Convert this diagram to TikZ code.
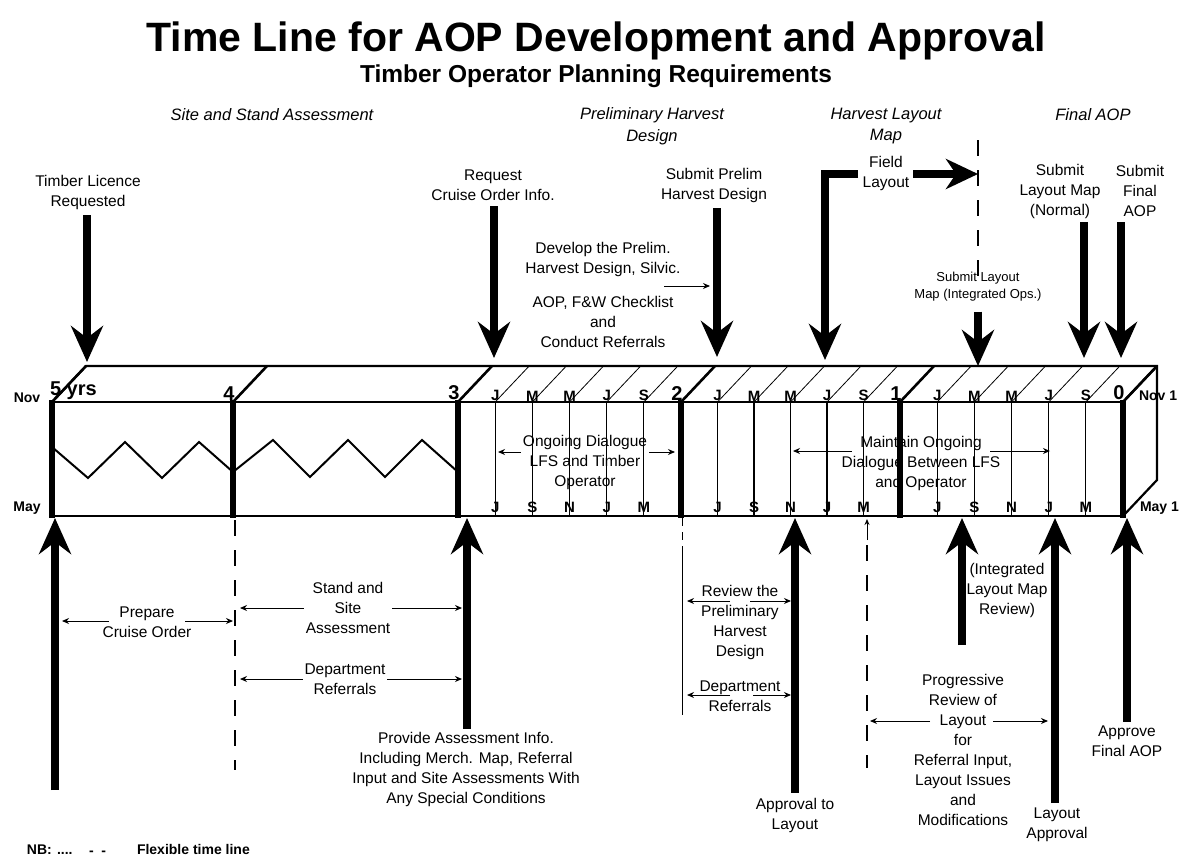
\documentclass[tikz,border=0pt]{standalone}
\usepackage{fontspec}
\setmainfont{Liberation Sans}
\usetikzlibrary{arrows.meta}
\begin{document}
\begin{tikzpicture}[x=1pt,y=-1pt,
  every node/.style={inner sep=0pt, outer sep=0pt},
  body/.style={font=\fontsize{15.5}{20}\selectfont, align=center},
  smalltxt/.style={font=\fontsize{13}{17}\selectfont, align=center},
  phase/.style={font=\fontsize{16.5}{21.5}\selectfont\itshape, align=center},
  yearnum/.style={font=\fontsize{20}{20}\selectfont\bfseries, anchor=south},
  mon/.style={font=\fontsize{15}{15}\selectfont\bfseries},
  sidelbl/.style={font=\fontsize{14}{14}\selectfont\bfseries},
  bigarrow/.style={line width=8pt, -{Stealth[length=36pt,width=32pt,inset=12pt]}},
  fine/.style={line width=1pt},
  thinarrow/.style={line width=1pt, -{Stealth[length=7pt,width=6pt]}},
  flex/.style={line width=1.4pt, dash pattern=on 16pt off 14pt},
  yearline/.style={line width=6pt},
  monthline/.style={line width=1.2pt},
  boxedge/.style={line width=2.2pt, line join=miter},
  note/.style={font=\fontsize{14}{14}\selectfont\bfseries, anchor=base west},
]
\fill[white] (0,0) rectangle (1192,867);
\useasboundingbox (0,0) rectangle (1192,867);

% titles
\node[font=\fontsize{41}{41}\selectfont\bfseries] (title) at (596,41) {Time Line for AOP Development and Approval};
\node[font=\fontsize{24.5}{24.5}\selectfont\bfseries] (subtitle) at (596,76) {Timber Operator Planning Requirements};

% phase labels
\node[phase] (ph1) at (272,115) {Site and Stand Assessment};
\node[phase] (ph2) at (652,126) {Preliminary Harvest\\Design};
\node[phase] (ph3) at (886,126) {Harvest Layout\\Map};
\node[phase] (ph4) at (1093,115) {Final AOP};

% ---- the box ----
\draw[boxedge] (52,402) -- (86,366) -- (1157,366) -- (1157,480) -- (1123,516);
\draw[boxedge] (52,402) rectangle (1123,516);
\draw[boxedge] (1123,402) -- (1157,366);

% zigzags
\draw[line width=2pt, line join=miter] (52,447) -- (88,478) -- (125,442) -- (162,478) -- (199,442) -- (233,472)
  -- (273,440) -- (310,477) -- (348,440) -- (385,477) -- (422,440) -- (458,472);

% month lines and labels
\foreach \a/\b/\n in {458/681/A,681/900/B,900/1123/C}{
  \foreach \k/\t/\bt in {1/J/J,2/M/S,3/M/N,4/J/J,5/S/M}{
    \pgfmathsetmacro\xx{\a+\k*(\b-\a)/6}
    \draw[monthline] (\xx,402) -- (\xx,516);
    \draw[line width=0.8pt] (\xx,402) -- ++(34,-36);
    \node[mon, anchor=south] (top\n\k) at (\xx,401) {\t};
    \node[mon] (bot\n\k) at (\xx,507) {\bt};
  }
}

% year lines
\foreach \x in {52,233,458,681,900,1123}{
  \draw[yearline] (\x,400) -- (\x,518);
  \draw[line width=2.6pt] (\x,402) -- ++(34,-36);
}
\node[font=\fontsize{20}{20}\selectfont\bfseries, anchor=south west] (y5) at (50,400) {5 yrs};
\node[yearnum] (y4) at (229,400) {4};
\node[yearnum] (y3) at (454,400) {3};
\node[yearnum] (y2) at (677,400) {2};
\node[yearnum] (y1) at (896,400) {1};
\node[yearnum] (y0) at (1119,400) {0};

\node[sidelbl] (novL) at (27,398) {Nov};
\node[sidelbl] (mayL) at (27,508) {May};
\node[sidelbl, anchor=west] (novR) at (1139,396) {Nov 1};
\node[sidelbl, anchor=west] (mayR) at (1140,508) {May 1};

% inside box dimension arrows
\node[body] (og) at (585,462) {Ongoing Dialogue\\LFS and Timber\\Operator};
\coordinate (ogL) at (498,452);
\coordinate (ogR) at (675,452);
\draw[thinarrow] ([xshift=-2pt]og.west |- ogL) -- (ogL);
\draw[thinarrow] ([xshift=2pt]og.east |- ogR) -- (ogR);

\node[body] (mo) at (921,463) {Maintain Ongoing\\Dialogue Between LFS\\and Operator};
\coordinate (moL) at (793,451);
\coordinate (moR) at (1050,451);
\draw[thinarrow] ([xshift=10pt]mo.west |- moL) -- (moL);
\draw[thinarrow] ([xshift=-10pt]mo.east |- moR) -- (moR);

% ---- top arrows ----
\node[body] (tl) at (88,192) {Timber Licence\\Requested};
\coordinate (tlE) at (87,362);
\draw[bigarrow] ([yshift=-6pt]tl.south -| tlE) -- (tlE);

\node[body] (rc) at (493,185) {Request\\Cruise Order Info.};
\coordinate (rcE) at (494,358);
\draw[bigarrow] ([yshift=-6pt]rc.south -| rcE) -- (rcE);

\node[body] (sp) at (714,185) {Submit Prelim\\Harvest Design};
\coordinate (spE) at (717,357);
\draw[bigarrow] ([yshift=-6pt]sp.south -| spE) -- (spE);

\node[body] (dev) at (603,295) {Develop the Prelim.\\Harvest Design, Silvic.\\[14pt]AOP, F\&W Checklist\\and\\Conduct Referrals};
\coordinate (devS) at (664,286);
\coordinate (devT) at (710,286);
\draw[thinarrow] (devS) -- (devT);

\node[body] (fl) at (886,173) {Field\\Layout};
\coordinate (flA) at (858,174);
\coordinate (flB) at (825,174);
\coordinate (flE) at (825,360);
\draw[bigarrow, line join=miter] (flA) -- (flB) -- (flE);
\coordinate (flT) at (978,174);
\draw[line width=8pt, -{Stealth[length=32pt,width=30pt,inset=10pt]}] ([xshift=4pt]fl.east |- flT) -- (flT);
\coordinate (dtop) at (978,140);
\coordinate (dbot) at (978,290);
\draw[flex] (dtop) -- (dbot);

\node[smalltxt] (si) at (978,287) {Submit Layout\\Map (Integrated Ops.)};
\coordinate (siE) at (978,366);
\draw[bigarrow] ([yshift=-10pt]si.south -| siE) -- (siE);

\node[body] (sn) at (1060,191) {Submit\\Layout Map\\(Normal)};
\coordinate (snS) at (1084,222);
\coordinate (snE) at (1084,358);
\draw[bigarrow] (snS) -- (snE);

\node[body] (sf) at (1140,191) {Submit\\Final\\AOP};
\coordinate (sfS) at (1121,222);
\coordinate (sfE) at (1121,358);
\draw[bigarrow] (sfS) -- (sfE);

% ---- bottom arrows ----
\coordinate (u1) at (55,518);
\coordinate (u1b) at (55,790);
\draw[bigarrow] (u1b) -- (u1);

\node[body] (pa) at (466,769) {Provide Assessment Info.\\Including Merch. Map, Referral\\Input and Site Assessments With\\Any Special Conditions};
\coordinate (u2) at (467,518);
\draw[bigarrow] ([yshift=3pt]pa.north -| u2) -- (u2);

\node[body] (ap) at (795,815) {Approval to\\Layout};
\coordinate (u3) at (795,518);
\draw[bigarrow] ([yshift=5pt]ap.north -| u3) -- (u3);

\node[body] (ilm) at (1007,590) {(Integrated\\Layout Map\\Review)};
\coordinate (u4) at (962,518);
\coordinate (u4b) at (962,645);
\draw[bigarrow] (u4b) -- (u4);

\node[body] (la) at (1057,825) {Layout\\Approval};
\coordinate (u5) at (1055,518);
\draw[bigarrow] ([yshift=5pt]la.north -| u5) -- (u5);

\node[body] (af) at (1127,741) {Approve\\Final AOP};
\coordinate (u6) at (1127,518);
\draw[bigarrow] ([yshift=4pt]af.north -| u6) -- (u6);

% ---- flexible / guide lines below ----
\draw[flex] (235,520) -- (235,770);
\draw[fine, dash pattern=on 8pt off 6pt] (682,518) -- (682,550);
\draw[fine] (682,550) -- (682,715);
\coordinate (m1) at (867,519);
\coordinate (m1b) at (867,540);
\draw[fine, -{Stealth[length=6pt,width=5pt]}] (m1b) -- (m1);
\draw[flex] (867,545) -- (867,768);

% ---- bottom dimension arrows ----
\node[body] (pc) at (147,622) {Prepare\\Cruise Order};
\coordinate (pcL) at (62,621);
\coordinate (pcR) at (233,621);
\draw[thinarrow] ([xshift=6pt]pc.west |- pcL) -- (pcL);
\draw[thinarrow] ([xshift=-6pt]pc.east |- pcR) -- (pcR);

\node[body] (ss) at (348,608) {Stand and\\Site\\Assessment};
\coordinate (ssL) at (240,608);
\coordinate (ssR) at (462,608);
\draw[thinarrow] ([xshift=-2pt]ss.west |- ssL) -- (ssL);
\draw[thinarrow] ([xshift=2pt]ss.east |- ssR) -- (ssR);

\node[body] (dr1) at (345,679) {Department\\Referrals};
\coordinate (drL) at (240,679);
\coordinate (drR) at (462,679);
\draw[thinarrow] ([xshift=-2pt]dr1.west |- drL) -- (drL);
\draw[thinarrow] ([xshift=2pt]dr1.east |- drR) -- (drR);

\node[body] (rv) at (740,622) {Review the\\Preliminary\\Harvest\\Design};
\coordinate (rvL) at (687,601);
\coordinate (rvR) at (791,601);
\coordinate (rvGL) at (730,601);
\coordinate (rvGR) at (750,601);
\draw[thinarrow] (rvGL) -- (rvL);
\draw[thinarrow] (rvGR) -- (rvR);

\node[body] (dr2) at (740,696) {Department\\Referrals};
\coordinate (dr2L) at (687,695);
\coordinate (dr2R) at (791,695);
\coordinate (dr2GL) at (730,695);
\coordinate (dr2GR) at (753,695);
\draw[thinarrow] (dr2GL) -- (dr2L);
\draw[thinarrow] (dr2GR) -- (dr2R);

\node[body] (pr) at (963,750) {Progressive\\Review of\\Layout\\for\\Referral Input,\\Layout Issues\\and\\Modifications};
\coordinate (prL) at (870,721);
\coordinate (prR) at (1048,721);
\coordinate (prGL) at (930,721);
\coordinate (prGR) at (993,721);
\draw[thinarrow] (prGL) -- (prL);
\draw[thinarrow] (prGR) -- (prR);

% ---- note ----
\node[note] (nb1) at (27,854) {NB:};
\node[note] (nb2) at (57,854) {....};
\node[note] (nb3) at (89,855.5) {-\ \ -};
\node[note] (nb4) at (137,854) {Flexible time line};
\end{tikzpicture}
\end{document}
